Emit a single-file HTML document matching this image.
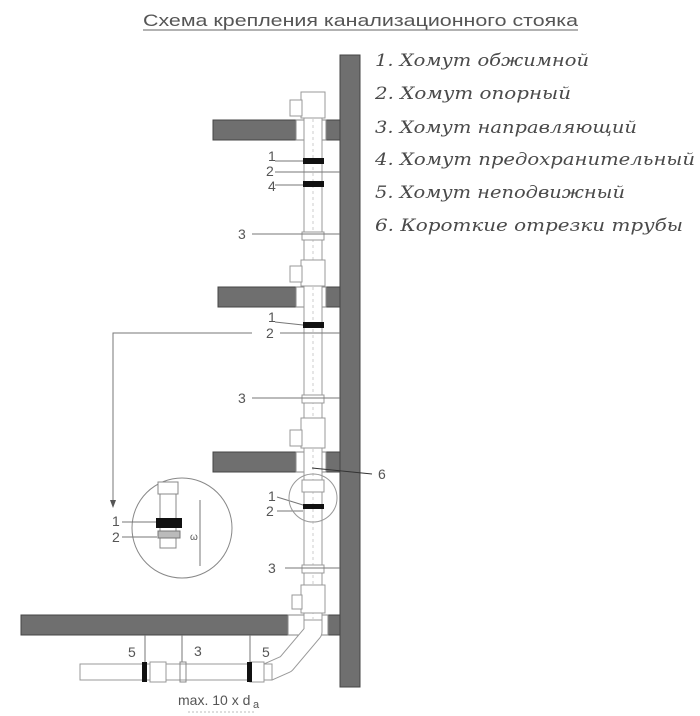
<!DOCTYPE html>
<html><head><meta charset="utf-8"><style>
html,body{margin:0;padding:0;background:#fff;width:700px;height:716px;overflow:hidden}
svg{display:block}
.t{font-family:"Liberation Sans",sans-serif;fill:#555}
.l{font-family:"DejaVu Serif","Liberation Serif",serif;font-style:italic;font-size:17px;fill:#4a4a4a}
.n{font-family:"Liberation Sans",sans-serif;font-size:14px;fill:#555}
</style></head><body>
<svg width="700" height="716" viewBox="0 0 700 716" xmlns="http://www.w3.org/2000/svg">
<text class="t" x="143" y="26" font-size="17" textLength="435" lengthAdjust="spacingAndGlyphs">Схема крепления канализационного стояка</text>
<line x1="143" y1="30" x2="578" y2="30" stroke="#666" stroke-width="1"/>
<g class="l">
<text x="375" y="66" textLength="214" lengthAdjust="spacingAndGlyphs">1. Хомут обжимной</text>
<text x="375" y="99" textLength="196" lengthAdjust="spacingAndGlyphs">2. Хомут опорный</text>
<text x="375" y="133" textLength="262" lengthAdjust="spacingAndGlyphs">3. Хомут направляющий</text>
<text x="375" y="165" textLength="320" lengthAdjust="spacingAndGlyphs">4. Хомут предохранительный</text>
<text x="375" y="198" textLength="250" lengthAdjust="spacingAndGlyphs">5. Хомут неподвижный</text>
<text x="375" y="231" textLength="308" lengthAdjust="spacingAndGlyphs">6. Короткие отрезки трубы</text>
</g>
<rect x="340" y="55" width="20" height="632" fill="#6f6f6f" stroke="#444" stroke-width="1"/>
<g fill="#6f6f6f" stroke="#444" stroke-width="1">
<rect x="213" y="120" width="127" height="20"/>
<rect x="218" y="287" width="122" height="20"/>
<rect x="213" y="452" width="127" height="20"/>
<rect x="21" y="615" width="319" height="20"/>
</g>
<g fill="#fff" stroke="#888" stroke-width="1">
<rect x="296" y="120" width="30" height="20"/>
<rect x="296" y="287" width="30" height="20"/>
<rect x="296" y="452" width="30" height="20"/>
<rect x="288" y="615" width="40" height="20"/>
</g>
<!-- elbow -->
<path d="M313 612 L313 632 L286 664 L268 672" fill="none" stroke="#999" stroke-width="19" stroke-linejoin="round"/>
<path d="M313 612 L313 632 L286 664 L268 672" fill="none" stroke="#fff" stroke-width="17" stroke-linejoin="round"/>
<g fill="#fff" stroke="#999" stroke-width="1">
<rect x="304" y="95" width="18" height="525"/>
<line x1="313" y1="95" x2="313" y2="620" stroke="#ccc" stroke-dasharray="3 3"/>
<rect x="301" y="92" width="24" height="26"/><rect x="290" y="100" width="12" height="16"/>
<rect x="301" y="260" width="24" height="26"/><rect x="290" y="266" width="12" height="16"/>
<rect x="301" y="418" width="24" height="30"/><rect x="290" y="430" width="12" height="16"/>
<rect x="301" y="585" width="24" height="28"/><rect x="292" y="595" width="10" height="14"/>
<rect x="302" y="480" width="22" height="12"/>
<rect x="302" y="395" width="22" height="8"/>
<rect x="302" y="232" width="22" height="8"/>
<rect x="302" y="565" width="22" height="8"/>
<rect x="80" y="664" width="192" height="16"/>
<rect x="150" y="662" width="16" height="20"/>
<rect x="250" y="662" width="14" height="20"/>
</g>
<g fill="#111">
<rect x="303" y="158" width="21" height="6"/>
<rect x="303" y="181" width="21" height="6"/>
<rect x="303" y="322" width="21" height="6"/>
<rect x="303" y="504" width="21" height="5"/>
<rect x="142" y="662" width="5" height="20"/>
<rect x="247" y="662" width="5" height="20"/>
</g>
<g stroke="#777" stroke-width="1" fill="none">
<line x1="303" y1="172" x2="340" y2="172"/>
<line x1="252" y1="234" x2="340" y2="234"/>
<line x1="280" y1="333" x2="340" y2="333"/>
<line x1="252" y1="398" x2="340" y2="398"/>
<line x1="285" y1="568" x2="340" y2="568"/>
<line x1="145" y1="635" x2="145" y2="662"/>
<line x1="182" y1="635" x2="182" y2="662"/>
<line x1="250" y1="635" x2="250" y2="662"/>
<rect x="180" y="662" width="6" height="20" stroke="#888"/>
<line x1="275" y1="161" x2="303" y2="161"/>
<line x1="275" y1="172" x2="303" y2="172"/>
<line x1="275" y1="185" x2="303" y2="185"/>
<line x1="275" y1="322" x2="303" y2="325"/>
<line x1="312" y1="468" x2="372" y2="474" stroke="#333"/>
<line x1="277" y1="497" x2="303" y2="505"/>
<line x1="277" y1="511" x2="303" y2="511"/>
<polyline points="252,333 113,333 113,500"/>
<circle cx="313" cy="498" r="24" stroke="#999"/>
<circle cx="182" cy="528" r="50" stroke="#888"/>
<line x1="122" y1="522" x2="157" y2="522"/>
<line x1="122" y1="537" x2="157" y2="537"/>
<line x1="200" y1="500" x2="200" y2="566"/>
</g>
<path d="M110 500 L116 500 L113 508 Z" fill="#555"/>
<g fill="#fff" stroke="#888">
<rect x="160" y="490" width="16" height="58"/>
<rect x="158" y="482" width="20" height="12"/>
</g>
<rect x="156" y="518" width="26" height="10" fill="#111"/>
<rect x="158" y="531" width="22" height="7" fill="#bbb" stroke="#777"/>
<g class="n">
<text x="268" y="161">1</text><text x="266" y="176">2</text><text x="268" y="191">4</text>
<text x="238" y="239">3</text>
<text x="268" y="322">1</text><text x="266" y="338">2</text>
<text x="238" y="403">3</text>
<text x="378" y="479">6</text>
<text x="268" y="501">1</text><text x="266" y="516">2</text>
<text x="268" y="573">3</text>
<text x="112" y="526">1</text><text x="112" y="542">2</text>
<text x="190" y="540" font-size="10">ω</text>
<text x="128" y="657">5</text><text x="194" y="656">3</text><text x="262" y="657">5</text>
<text x="178" y="705">max. 10 x d</text><text x="253" y="708" font-size="11">a</text>
</g>
<line x1="188" y1="712" x2="255" y2="712" stroke="#bbb" stroke-dasharray="2 2"/>
</svg>
</body></html>
